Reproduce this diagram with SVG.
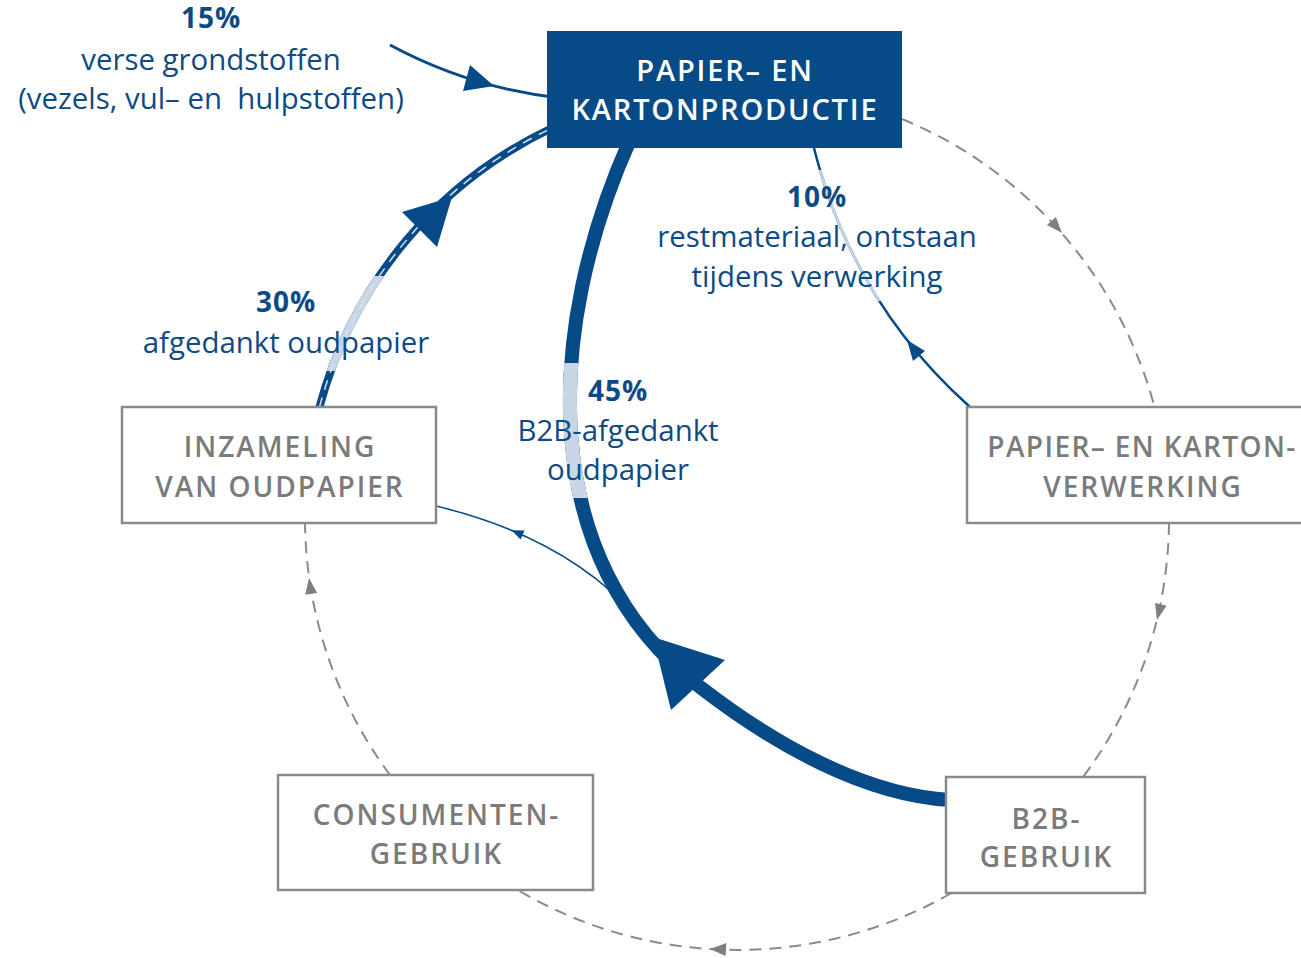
<svg xmlns="http://www.w3.org/2000/svg" width="1301" height="958" viewBox="0 0 1301 958">
<defs>
<style>
.dash{fill:none;stroke:#8a8a8a;stroke-width:2;stroke-dasharray:12 8}
.dhead{fill:#7f7f7f}
.blue{fill:none;stroke:#064b88}
.light{fill:none;stroke:#c8d6e5}
.bh{fill:#064b88}
.gbox{fill:#ffffff;stroke:#8a8a8a;stroke-width:2.5}
.gt{font-family:"Open Sans","Liberation Sans",sans-serif;font-weight:600;font-size:28px;letter-spacing:2px;fill:#7b7b7b;text-anchor:middle}
.wt{font-family:"Open Sans","Liberation Sans",sans-serif;font-weight:600;font-size:29px;letter-spacing:1.8px;fill:#ffffff;text-anchor:middle}
.bt{font-family:"Open Sans","Liberation Sans",sans-serif;font-size:29.4px;fill:#0d4a84;text-anchor:middle;white-space:pre}
.pc{font-weight:700;font-size:28px;letter-spacing:1px}
</style>
<clipPath id="c30"><rect x="300" y="276" width="120" height="95"/></clipPath>
<clipPath id="c45"><rect x="520" y="363" width="100" height="135"/></clipPath>
<clipPath id="c10"><rect x="790" y="170" width="110" height="131"/></clipPath>
</defs>
<rect width="1301" height="958" fill="#ffffff"/>
<g id="connectors">
  <path class="dash" d="M 902 119 A 432 432 0 0 1 1154.5 407"/>
  <polygon class="dhead" points="1062,233 1055.9,217 1046.9,225"/>
  <path class="dash" d="M 1169 523 A 432 432 0 0 1 1083 777"/>
  <polygon class="dhead" points="1157,620 1166.6,605.8 1155,603"/>
  <path class="dash" d="M 951.5 893 A 432 432 0 0 1 516 889"/>
  <polygon class="dhead" points="710,949 726.4,943 725.6,956"/>
  <path class="dash" d="M 390 775 A 432 432 0 0 1 305 523"/>
  <polygon class="dhead" points="309,578 317.1,593.1 305.3,594.7"/>

  <path class="blue" stroke-width="3" d="M 390 45 Q 470 88 560 98"/>
  <polygon class="bh" points="494,86 463,91 470,65"/>

  <path class="blue" stroke-width="8" d="M 319.5 407 A 432 432 0 0 1 552 128"/>
  <path class="light" stroke-width="8" clip-path="url(#c30)" d="M 319.5 407 A 432 432 0 0 1 552 128"/>
  <path fill="none" stroke="#d7e1ec" stroke-width="1.5" stroke-dasharray="10 8" d="M 319.5 407 A 432 432 0 0 1 552 128"/>
  <polygon class="bh" points="452,197 402,212 437,247"/>

  <path class="blue" stroke-width="14" d="M 630 140 C 545 330, 535 560, 700 687 C 775 745, 865 795, 950 800"/>
  <path class="light" stroke-width="14" clip-path="url(#c45)" d="M 630 140 C 545 330, 535 560, 700 687 C 775 745, 865 795, 950 800"/>
  <polygon class="bh" points="653,637 725,660 671,710"/>

  <path class="blue" stroke-width="1.5" d="M 636 616 Q 565 537 436 506"/>
  <polygon class="bh" points="511.5,530.2 524.5,530.4 520.5,539.6"/>

  <path class="blue" stroke-width="2.5" d="M 970 407 Q 850 300 812 140"/>
  <path class="light" stroke-width="2.5" clip-path="url(#c10)" d="M 970 407 Q 850 300 812 140"/>
  <polygon class="bh" points="907,340 925,351 913,361"/>
</g>
<g id="node-production">
  <rect x="547" y="31" width="355" height="117" fill="#064b88"/>
  <text class="wt" x="725" y="81">PAPIER– EN</text>
  <text class="wt" x="725" y="120">KARTONPRODUCTIE</text>
</g>
<g id="node-verwerking">
  <rect class="gbox" x="967" y="407" width="360" height="116"/>
  <text class="gt" x="1142" y="457" style="letter-spacing:1.4px">PAPIER– EN KARTON-</text>
  <text class="gt" x="1143" y="497">VERWERKING</text>
</g>
<g id="node-inzameling">
  <rect class="gbox" x="122" y="407" width="314" height="116"/>
  <text class="gt" x="280" y="457">INZAMELING</text>
  <text class="gt" x="280" y="497">VAN OUDPAPIER</text>
</g>
<g id="node-consument">
  <rect class="gbox" x="278" y="775" width="315" height="115"/>
  <text class="gt" x="436.5" y="825">CONSUMENTEN-</text>
  <text class="gt" x="436.5" y="864">GEBRUIK</text>
</g>
<g id="node-b2b">
  <rect class="gbox" x="946" y="777" width="199" height="116"/>
  <text class="gt" x="1046.5" y="829">B2B-</text>
  <text class="gt" x="1046.5" y="867">GEBRUIK</text>
</g>
<g id="labels">
  <text class="bt pc" x="211" y="28">15%</text>
  <text class="bt" x="211" y="70">verse grondstoffen</text>
  <text class="bt" x="211" y="109">(vezels, vul– en  hulpstoffen)</text>
  <text class="bt pc" x="817" y="207">10%</text>
  <text class="bt" x="817" y="247">restmateriaal, ontstaan</text>
  <text class="bt" x="817" y="287">tijdens verwerking</text>
  <text class="bt pc" x="286" y="312">30%</text>
  <text class="bt" x="286" y="353">afgedankt oudpapier</text>
  <text class="bt pc" x="618" y="401">45%</text>
  <text class="bt" x="618" y="441">B2B-afgedankt</text>
  <text class="bt" x="618" y="480">oudpapier</text>
</g>
</svg>
